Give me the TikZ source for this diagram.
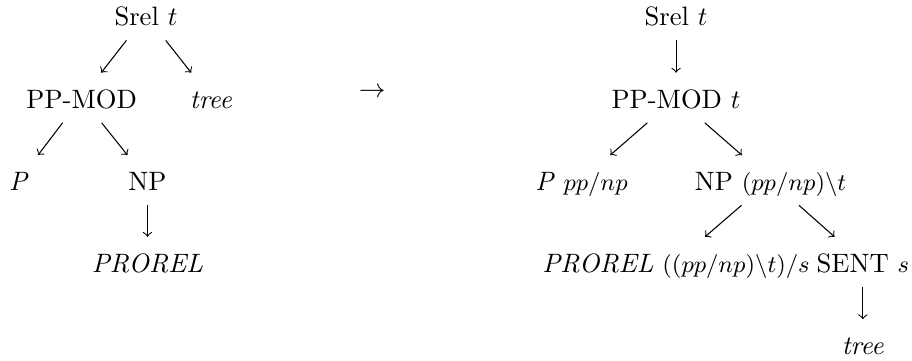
\documentclass[tikz,border=0pt]{standalone}
\usepackage{tikz}
\usepackage{amsmath}
\newcommand{\catg}[1]{{\small$#1$}}

\begin{document}
\begin{tikzpicture}[x=1cm,y=1cm,word/.style={anchor=base,text height=9.8pt,text depth=2pt},edge/.style={->}]
  \useasboundingbox (0,0) rectangle (12.06,4.77);
  % before
  \node[word] (lsrel) at (1.93,4.43) {Srel $t$};
  \node[word] (lppmod) at (1.08,3.34) {PP-MOD};
  \node[word] (ltree) at (2.79,3.34) {\textit{tree}};
  \node[word] (lp) at (0.25,2.25) {\textit{P}};
  \node[word] (lnp) at (1.95,2.25) {NP};
  \node[word] (lprorel) at (1.95,1.17) {\textit{PROREL}};
  \draw[edge] (lsrel) -- (lppmod);
  \draw[edge] (lsrel) -- (ltree);
  \draw[edge] (lppmod) -- (lp);
  \draw[edge] (lppmod) -- (lnp);
  \draw[edge] (lnp) -- (lprorel);
  % rewrite
  \node (rewrite) at (4.92,3.54) {$\rightarrow$};
  % after
  \node[word] (rsrel) at (8.94,4.43) {Srel $t$};
  \node[word] (rppmod) at (8.94,3.34) {PP-MOD $t$};
  \node[word] (rp) at (7.69,2.25) {\textit{P} \catg{pp/np}};
  \node[word] (rnp) at (10.19,2.25) {NP \catg{(pp/np)\backslash t}};
  \node[word] (rprorel) at (8.94,1.17) {\textit{PROREL} \catg{((pp/np)\backslash t)/s}};
  \node[word] (rsent) at (11.41,1.17) {SENT \catg{s}};
  \node[word] (rtree) at (11.41,0.08) {\textit{tree}};
  \draw[edge] (rsrel) -- (rppmod);
  \draw[edge] (rppmod) -- (rp);
  \draw[edge] (rppmod) -- (rnp);
  \draw[edge] (rnp) -- (rprorel);
  \draw[edge] (rnp) -- (rsent);
  \draw[edge] (rsent) -- (rtree);
\end{tikzpicture}
\end{document}
